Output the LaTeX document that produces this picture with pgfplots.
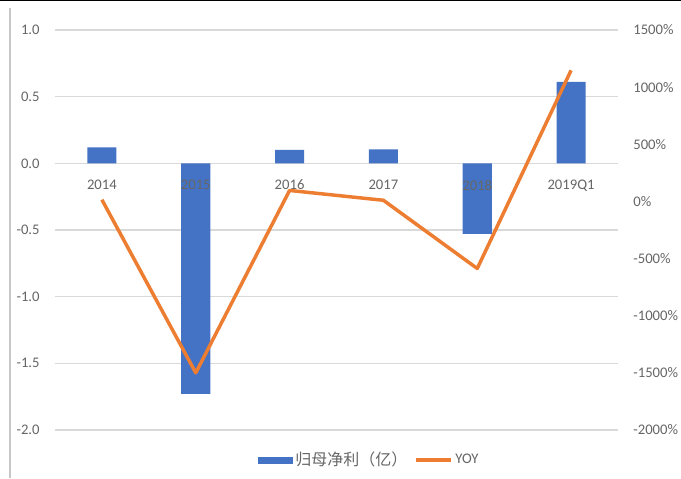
\documentclass[border=0pt]{standalone}
\usepackage{pgfplots}
\pgfplotsset{compat=1.18}
\usepackage{fontspec}
\setmainfont{Carlito}
\newfontfamily\cjk{Noto Sans CJK SC}
\definecolor{barblue}{HTML}{4472C4}
\definecolor{lineorange}{HTML}{ED7D31}
\definecolor{txtgray}{HTML}{666666}
\definecolor{gridgray}{HTML}{D9D9D9}
\begin{document}
\begin{tikzpicture}
\useasboundingbox (-41.25pt,-36pt) rectangle (469.5pt,322.5pt);
\fill[white] (-41.25pt,-36pt) rectangle (469.5pt,322.5pt);
\draw[black, line width=1.5pt] (-41.25pt,322.5pt) -- (469.5pt,322.5pt);
\draw[gridgray!80!gray, line width=1pt] (-33.75pt,-36pt) -- (-33.75pt,316.5pt);
\begin{axis}[
  scale only axis, width=422.25pt, height=300pt,
  xmin=-0.5, xmax=5.5, ymin=-2, ymax=1,
  ytick={-2,-1.5,...,1},
  axis y line*=left,
  axis x line*=middle,
  y axis line style={draw=none},
  x axis line style={draw=gridgray, line width=1pt},
  ymajorgrids, grid style={gridgray, line width=1pt},
  major tick length=0pt,
  xtick=\empty,
  yticklabel style={xshift=-8pt},
  /pgf/number format/assume math mode=true,
  yticklabel={\pgfmathprintnumber[fixed,fixed zerofill,precision=1]{\tick}},
  tick label style={font=\fontsize{11}{13}\selectfont, text=txtgray},
  clip=false,
]
\addplot[ybar, bar width=0.31, fill=barblue, draw=none] coordinates {
  (0,0.12) (1,-1.73) (2,0.10) (3,0.105) (4,-0.53) (5,0.61)
};
\end{axis}
\begin{axis}[
  scale only axis, width=422.25pt, height=300pt,
  xmin=-0.5, xmax=5.5, ymin=-2000, ymax=1500,
  ytick={-2000,-1500,...,1500},
  axis y line*=right,
  axis x line*=bottom,
  x axis line style={draw=none},
  y axis line style={draw=none},
  major tick length=0pt,
  xtick={0,1,2,3,4,5},
  xticklabels={2014,2015,2016,2017,2018,2019Q1},
  xticklabel style={yshift=191pt},
  yticklabel style={xshift=8pt},
  /pgf/number format/assume math mode=true,
  yticklabel={\pgfmathprintnumber[fixed,precision=0,1000 sep={}]{\tick}\%},
  tick label style={font=\fontsize{11}{13}\selectfont, text=txtgray},
  legend style={at={(0.559,-0.075)}, anchor=center, draw=none, fill=none,
    legend columns=2, font=\fontsize{11}{13}\selectfont, text=txtgray,
    /tikz/every even column/.append style={column sep=3.5pt}},
  clip=false,
]
\addlegendimage{legend image code/.code={\fill[barblue] (0pt,-2.25pt) rectangle (25.5pt,2.25pt);}}
\addlegendentry{\cjk\fontsize{12}{14}\selectfont 归母净利（亿）}
\addplot[lineorange, line width=2.6pt, line join=round,
  legend image code/.code={\draw[lineorange, line width=2.6pt] (0pt,0pt) -- (26pt,0pt);}] coordinates {
  (0,15) (1,-1500) (2,96) (3,10) (4,-587) (5,1147)
};
\addlegendentry{YOY}
\end{axis}
\end{tikzpicture}
\end{document}
